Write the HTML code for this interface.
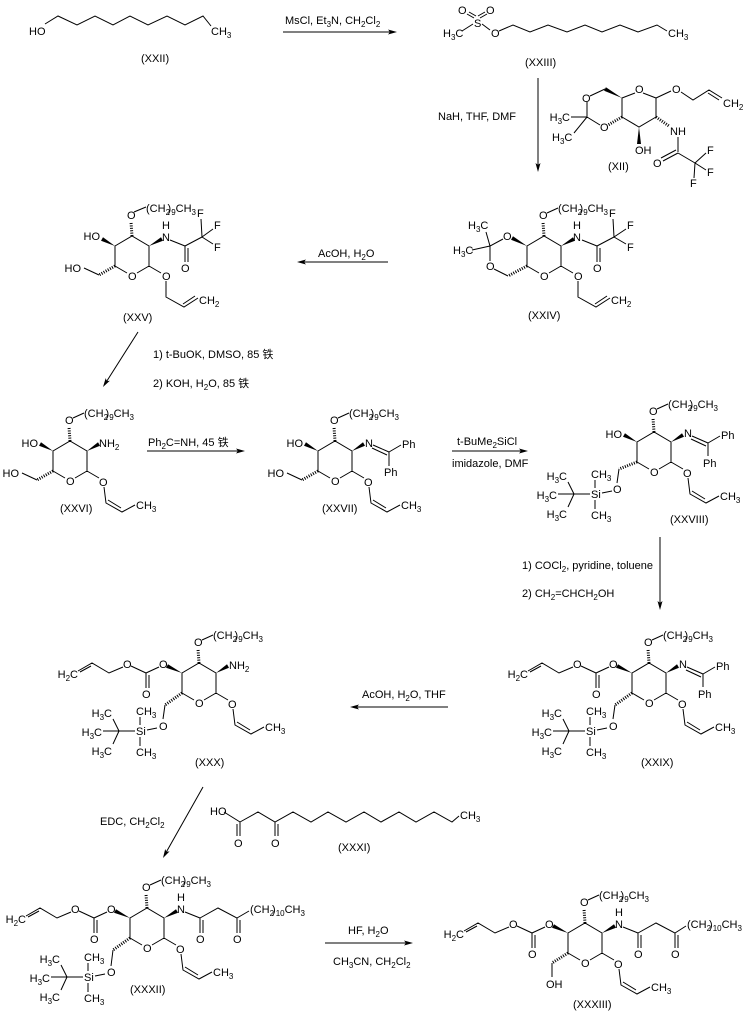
<!DOCTYPE html>
<html><head><meta charset="utf-8"><style>
html,body{margin:0;padding:0;background:#fff;}
svg{display:block;}
svg text{font-family:"Liberation Sans","Noto Sans CJK SC",sans-serif;font-size:11px;fill:#000;stroke:none;}
.s{font-size:8px;}
.b{fill:none;stroke:#000;stroke-width:1;}
.h{fill:none;stroke:#000;stroke-width:3;stroke-dasharray:1 1.4;}
.w{fill:#000;stroke:none;}
</style></head><body>
<svg width="749" height="1011" viewBox="0 0 749 1011" xmlns="http://www.w3.org/2000/svg">

<!-- ================= BONDS ================= -->
<path class="b" d="
M45,24 L58,16 L77,25 L95,16 L113,25 L130,16 L148,25 L167,16 L185,25 L203,16 L211,26
M462,31 L473,24 M482,24 L490,30 M474,18 L467,14 M476,16 L469,12 M480,18 L487,14 M478,16 L485,12
M499,31 L513,25 L530,32 L548,25 L567,32 L585,25 L602,32 L620,25 L638,32 L657,25 L667,31

M643,93 L656,98 L656,117 L639,127 L622,117 L622,98 L635,93
M605,89 L590,96 M587,102 L587,117 L600,125 M571,117 L587,117 M587,117 L574,133
M678,137 L678,152 M678,153 L663,161 M676,150 L661,158 M678,153 L695,163
M695,163 L706,153 M695,163 L706,170 M695,163 L694,178
M656,98 L671,91 M681,92 L693,100 L709,90 L722,98 M708,93 L719,100

M137,273 L149,266 L149,246 L132,236 L115,246 L115,266 L127,273
M134,212 L146,207 M99,275 L84,268
M170,240 L185,246 L185,262 M188,248 L188,262
M185,246 L202,237 M202,237 L201,219 M202,237 L213,229 M202,237 L213,244
M149,266 L161,273 M166,281 L166,297 L184,307 L198,298 M183,304 L195,296

M549,273 L561,266 L561,246 L544,236 L527,246 L527,266 L539,273
M547,213 L558,208
M503,239 L490,246 L490,261 M494,269 L508,276 M490,246 L486,232 M472,250 L490,246
M582,240 L597,246 L597,262 M600,248 L600,262
M597,246 L614,237 M614,237 L613,219 M614,237 L626,229 M614,237 L626,244
M561,266 L573,273 M578,281 L578,297 L596,307 L610,298 M595,304 L607,296

M75,478 L87,471 L87,451 L70,441 L53,451 L53,471 L65,478
M73,418 L84,413 M37,480 L22,473 M87,471 L99,478
M104,487 L106,503 L122,512 L135,505 M108,500 L121,508

M340,478 L352,471 L352,451 L335,441 L318,451 L318,471 L330,478
M338,418 L349,413 M302,480 L287,473
M373,445 L389,452 M372,448 L387,455 M389,452 L401,445 M389,452 L389,466
M352,471 L364,478 M369,487 L371,503 L387,512 L400,505 M373,500 L386,508

M659,469 L671,462 L671,442 L654,432 L637,442 L637,462 L649,469
M657,409 L668,404
M692,436 L708,443 M691,439 L706,446 M708,443 L720,436 M708,443 L708,456
M619,469 L617,483 M602,493 L612,491 M595,488 L595,480 M595,500 L595,509
M558,494 L590,494 M574,494 L568,482 M574,494 L568,507
M671,462 L683,469 M688,478 L690,494 L706,503 L719,496 M692,491 L705,499

M654,700 L666,693 L666,673 L649,663 L632,673 L632,693 L644,700
M652,640 L663,635
M609,667 L596,673 L596,688 M599,675 L599,688 M596,673 L581,666 M573,667 L559,673 L542,663 L528,671 M541,666 L530,672
M687,667 L703,674 M686,670 L701,677 M703,674 L715,667 M703,674 L703,687
M615,705 L613,719 M597,730 L607,728 M590,725 L590,717 M590,737 L590,746 M553,731 L585,731 M569,731 L563,719 M569,731 L563,744
M666,693 L678,700 M683,709 L685,725 L701,734 L714,727 M687,722 L700,730

M204,700 L216,693 L216,673 L199,663 L182,673 L182,693 L194,700
M202,640 L213,635
M159,667 L146,673 L146,688 M149,675 L149,688 M146,673 L131,666 M123,667 L109,673 L92,663 L78,671 M91,666 L80,672
M165,705 L163,719 M147,730 L157,728 M140,725 L140,717 M140,737 L140,746 M103,731 L135,731 M119,731 L113,719 M119,731 L113,744
M216,693 L228,700 M233,709 L235,725 L251,734 L264,727 M237,722 L250,730

M224,812 L240,822 L240,836 M237,824 L237,836
M240,822 L258,812 L275,822 L293,812 L311,822 L328,812 L346,822 L364,812 L381,822 L399,812 L416,822 L434,812 L452,822 L459,816
M275,822 L275,836 M278,824 L278,836

M152,945 L164,938 L164,918 L147,908 L130,918 L130,938 L142,945
M150,885 L161,880
M185,912 L200,918 L200,933 M203,920 L203,933 M200,918 L218,908 L237,918 L237,933 M240,920 L240,933 M237,918 L249,911
M107,912 L94,918 L94,933 M97,920 L97,933 M94,918 L79,911 M71,912 L57,918 L40,908 L26,916 M39,911 L28,917
M113,950 L111,966 M95,976 L105,974 M88,971 L88,963 M88,983 L88,992 M51,977 L83,977 M67,977 L61,965 M67,977 L61,990
M164,938 L176,945 M181,954 L183,970 L199,979 L212,972 M185,967 L198,975

M590,960 L602,953 L602,933 L585,923 L568,933 L568,953 L580,960
M588,900 L599,895
M623,927 L638,933 L638,948 M641,935 L641,948 M638,933 L656,923 L675,933 L675,948 M678,935 L678,948 M675,933 L686,926
M545,927 L532,933 L532,948 M535,935 L535,948 M532,933 L517,926 M509,927 L495,933 L478,923 L464,931 M477,926 L466,932
M552,963 L552,977
M602,953 L614,960 M619,969 L621,985 L637,994 L650,987 M623,982 L636,990

M283,32 L391,32
M538,78 L538,166
M303,262 L388,262
M138,332 L106.8,381.1
M147,451 L239,451
M452,451 L522,451
M660,537 L660,604
M356,707 L448,707
M203,787 L166.4,851.9
M325,943 L407,943
"/>

<!-- hashed bonds -->
<path class="h" d="
M622,117 L608,125 M656,117 L669,126
M132,236 L131,222 M115,266 L99,275
M544,236 L543,222 M527,266 L508,276
M70,441 L69,427 M53,471 L37,480
M335,441 L334,427 M318,471 L302,480
M654,432 L653,418 M637,462 L619,469
M649,663 L648,649 M632,693 L615,705
M199,663 L198,649 M182,693 L165,705
M147,908 L146,894 M130,938 L113,950
M585,923 L584,909 M568,953 L552,963
"/>

<!-- bold wedges + arrowheads -->
<g class="w">
<polygon points="622,98 605.9,87.2 604.1,90.8"/>
<polygon points="639,127 637,144 641,144"/>
<polygon points="115,246 103,237.2 101,240.8"/>
<polygon points="149,246 163,240.8 161,237.2"/>
<polygon points="527,246 513,236.2 511,239.8"/>
<polygon points="561,246 575,240.8 573,237.2"/>
<polygon points="53,451 41,442.2 39,445.8"/>
<polygon points="87,451 100,445.8 98,442.2"/>
<polygon points="318,451 306,442.2 304,445.8"/>
<polygon points="352,451 365,445.8 363,442.2"/>
<polygon points="637,442 625,433.2 623,436.8"/>
<polygon points="671,442 684,436.8 682,433.2"/>
<polygon points="632,673 618,664.2 616,667.8"/>
<polygon points="666,673 679,667.8 677,664.2"/>
<polygon points="182,673 168,664.2 166,667.8"/>
<polygon points="216,673 229,667.8 227,664.2"/>
<polygon points="130,918 116,909.2 114,912.8"/>
<polygon points="164,918 178,912.8 176,909.2"/>
<polygon points="568,933 554,924.2 552,927.8"/>
<polygon points="602,933 616,927.8 614,924.2"/>
<polygon points="397,32 388,29.5 390,32 388,34.5"/>
<polygon points="538,172 535.5,163 538,165 540.5,163"/>
<polygon points="297,262 306,259.5 304,262 306,264.5"/>
<polygon points="103,387 109.9,380.7 106.8,381.1 105.7,378.1"/>
<polygon points="245,451 236,448.5 238,451 236,453.5"/>
<polygon points="528,451 519,448.5 521,451 519,453.5"/>
<polygon points="660,610 657.5,601 660,603 662.5,601"/>
<polygon points="350,707 359,704.5 357,707 359,709.5"/>
<polygon points="163,858 169.6,851.4 166.4,851.9 165.2,849"/>
<polygon points="413,943 404,940.5 406,943 404,945.5"/>
</g>

<!-- ================= TEXT ================= -->
<!-- XXII -->
<text x="29" y="35">HO</text>
<text x="211" y="35">CH<tspan class="s" dy="3">3</tspan></text>
<text x="141" y="62">(XXII)</text>
<text x="285" y="24">MsCl, Et<tspan class="s" dy="3">3</tspan><tspan dy="-3">N, CH</tspan><tspan class="s" dy="3">2</tspan><tspan dy="-3">Cl</tspan><tspan class="s" dy="3">2</tspan></text>

<!-- XXIII -->
<text x="458" y="14">O</text>
<text x="486" y="14">O</text>
<text x="474" y="27">S</text>
<text x="443" y="37">H<tspan class="s" dy="3">3</tspan><tspan dy="-3">C</tspan></text>
<text x="491" y="37">O</text>
<text x="668" y="37">CH<tspan class="s" dy="3">3</tspan></text>
<text x="525" y="66">(XXIII)</text>
<text x="438" y="120">NaH, THF, DMF</text>

<!-- XII -->
<text x="635" y="93">O</text>
<text x="582" y="102">O</text>
<text x="600" y="131">O</text>
<text x="570" y="121" text-anchor="end">H<tspan class="s" dy="3">3</tspan><tspan dy="-3">C</tspan></text>
<text x="552" y="141">H<tspan class="s" dy="3">3</tspan><tspan dy="-3">C</tspan></text>
<text x="635" y="154">OH</text>
<text x="670" y="135">NH</text>
<text x="653" y="167">O</text>
<text x="707" y="154">F</text>
<text x="707" y="176">F</text>
<text x="690" y="187">F</text>
<text x="672" y="93">O</text>
<text x="723" y="107">CH<tspan class="s" dy="3">2</tspan></text>
<text x="608" y="170">(XII)</text>

<!-- XXV -->
<text x="128" y="280">O</text>
<text x="127" y="219">O</text>
<text x="146" y="212">(CH<tspan class="s" dy="3">2</tspan><tspan dy="-3" dx="-2.5">)</tspan><tspan class="s" dy="3">9</tspan><tspan dy="-3">CH</tspan><tspan class="s" dy="3">3</tspan></text>
<text x="100" y="240" text-anchor="end">HO</text>
<text x="81" y="272" text-anchor="end">HO</text>
<text x="162" y="241">N</text>
<text x="162" y="229">H</text>
<text x="181" y="272">O</text>
<text x="197" y="217">F</text>
<text x="214" y="229">F</text>
<text x="214" y="251">F</text>
<text x="162" y="280">O</text>
<text x="199" y="304">CH<tspan class="s" dy="3">2</tspan></text>
<text x="123" y="321">(XXV)</text>
<text x="318" y="257">AcOH, H<tspan class="s" dy="3">2</tspan><tspan dy="-3">O</tspan></text>

<!-- XXIV -->
<text x="540" y="280">O</text>
<text x="539" y="219">O</text>
<text x="558" y="212">(CH<tspan class="s" dy="3">2</tspan><tspan dy="-3" dx="-2.5">)</tspan><tspan class="s" dy="3">9</tspan><tspan dy="-3">CH</tspan><tspan class="s" dy="3">3</tspan></text>
<text x="503" y="240">O</text>
<text x="486" y="270">O</text>
<text x="468" y="229">H<tspan class="s" dy="3">3</tspan><tspan dy="-3">C</tspan></text>
<text x="453" y="254">H<tspan class="s" dy="3">3</tspan><tspan dy="-3">C</tspan></text>
<text x="573" y="241">N</text>
<text x="573" y="229">H</text>
<text x="593" y="272">O</text>
<text x="609" y="217">F</text>
<text x="627" y="229">F</text>
<text x="627" y="251">F</text>
<text x="574" y="280">O</text>
<text x="611" y="304">CH<tspan class="s" dy="3">2</tspan></text>
<text x="528" y="319">(XXIV)</text>

<!-- conditions -->
<text x="153" y="358">1) t-BuOK, DMSO, 85 铁</text>
<text x="153" y="387">2) KOH, H<tspan class="s" dy="3">2</tspan><tspan dy="-3">O, 85 铁</tspan></text>

<!-- XXVI -->
<text x="66" y="485">O</text>
<text x="65" y="424">O</text>
<text x="84" y="417">(CH<tspan class="s" dy="3">2</tspan><tspan dy="-3" dx="-2.5">)</tspan><tspan class="s" dy="3">9</tspan><tspan dy="-3">CH</tspan><tspan class="s" dy="3">3</tspan></text>
<text x="38" y="447" text-anchor="end">HO</text>
<text x="19" y="477" text-anchor="end">HO</text>
<text x="99" y="447">NH<tspan class="s" dy="3">2</tspan></text>
<text x="99" y="486">O</text>
<text x="136" y="509">CH<tspan class="s" dy="3">3</tspan></text>
<text x="60" y="512">(XXVI)</text>
<text x="148" y="446">Ph<tspan class="s" dy="3">2</tspan><tspan dy="-3">C=NH, 45 铁</tspan></text>

<!-- XXVII -->
<text x="331" y="485">O</text>
<text x="330" y="424">O</text>
<text x="349" y="417">(CH<tspan class="s" dy="3">2</tspan><tspan dy="-3" dx="-2.5">)</tspan><tspan class="s" dy="3">9</tspan><tspan dy="-3">CH</tspan><tspan class="s" dy="3">3</tspan></text>
<text x="303" y="447" text-anchor="end">HO</text>
<text x="284" y="477" text-anchor="end">HO</text>
<text x="365" y="447">N</text>
<text x="402" y="448">Ph</text>
<text x="384" y="476">Ph</text>
<text x="364" y="486">O</text>
<text x="401" y="509">CH<tspan class="s" dy="3">3</tspan></text>
<text x="322" y="512">(XXVII)</text>
<text x="457" y="445">t-BuMe<tspan class="s" dy="3">2</tspan><tspan dy="-3">SiCl</tspan></text>
<text x="452" y="467">imidazole, DMF</text>

<!-- XXVIII -->
<text x="650" y="476">O</text>
<text x="649" y="415">O</text>
<text x="668" y="408">(CH<tspan class="s" dy="3">2</tspan><tspan dy="-3" dx="-2.5">)</tspan><tspan class="s" dy="3">9</tspan><tspan dy="-3">CH</tspan><tspan class="s" dy="3">3</tspan></text>
<text x="622" y="438" text-anchor="end">HO</text>
<text x="684" y="437">N</text>
<text x="721" y="439">Ph</text>
<text x="703" y="467">Ph</text>
<text x="613" y="493">O</text>
<text x="591" y="498">Si</text>
<text x="591" y="478">CH<tspan class="s" dy="3">3</tspan></text>
<text x="591" y="519">CH<tspan class="s" dy="3">3</tspan></text>
<text x="567" y="480" text-anchor="end">H<tspan class="s" dy="3">3</tspan><tspan dy="-3">C</tspan></text>
<text x="557" y="499" text-anchor="end">H<tspan class="s" dy="3">3</tspan><tspan dy="-3">C</tspan></text>
<text x="567" y="518" text-anchor="end">H<tspan class="s" dy="3">3</tspan><tspan dy="-3">C</tspan></text>
<text x="683" y="477">O</text>
<text x="720" y="500">CH<tspan class="s" dy="3">3</tspan></text>
<text x="670" y="523">(XXVIII)</text>
<text x="522" y="569">1) COCl<tspan class="s" dy="3">2</tspan><tspan dy="-3">, pyridine, toluene</tspan></text>
<text x="522" y="597">2) CH<tspan class="s" dy="3">2</tspan><tspan dy="-3">=CHCH</tspan><tspan class="s" dy="3">2</tspan><tspan dy="-3">OH</tspan></text>

<!-- XXIX -->
<text x="645" y="707">O</text>
<text x="644" y="646">O</text>
<text x="663" y="639">(CH<tspan class="s" dy="3">2</tspan><tspan dy="-3" dx="-2.5">)</tspan><tspan class="s" dy="3">9</tspan><tspan dy="-3">CH</tspan><tspan class="s" dy="3">3</tspan></text>
<text x="609" y="668">O</text>
<text x="592" y="698">O</text>
<text x="573" y="668">O</text>
<text x="528" y="678" text-anchor="end">H<tspan class="s" dy="3">2</tspan><tspan dy="-3">C</tspan></text>
<text x="679" y="668">N</text>
<text x="716" y="670">Ph</text>
<text x="698" y="698">Ph</text>
<text x="609" y="730">O</text>
<text x="586" y="735">Si</text>
<text x="586" y="715">CH<tspan class="s" dy="3">3</tspan></text>
<text x="586" y="756">CH<tspan class="s" dy="3">3</tspan></text>
<text x="562" y="717" text-anchor="end">H<tspan class="s" dy="3">3</tspan><tspan dy="-3">C</tspan></text>
<text x="552" y="736" text-anchor="end">H<tspan class="s" dy="3">3</tspan><tspan dy="-3">C</tspan></text>
<text x="562" y="755" text-anchor="end">H<tspan class="s" dy="3">3</tspan><tspan dy="-3">C</tspan></text>
<text x="678" y="708">O</text>
<text x="715" y="731">CH<tspan class="s" dy="3">3</tspan></text>
<text x="641" y="766">(XXIX)</text>
<text x="362" y="698">AcOH, H<tspan class="s" dy="3">2</tspan><tspan dy="-3">O, THF</tspan></text>

<!-- XXX -->
<text x="195" y="707">O</text>
<text x="194" y="646">O</text>
<text x="213" y="639">(CH<tspan class="s" dy="3">2</tspan><tspan dy="-3" dx="-2.5">)</tspan><tspan class="s" dy="3">9</tspan><tspan dy="-3">CH</tspan><tspan class="s" dy="3">3</tspan></text>
<text x="229" y="669">NH<tspan class="s" dy="3">2</tspan></text>
<text x="159" y="668">O</text>
<text x="142" y="698">O</text>
<text x="123" y="668">O</text>
<text x="78" y="678" text-anchor="end">H<tspan class="s" dy="3">2</tspan><tspan dy="-3">C</tspan></text>
<text x="159" y="730">O</text>
<text x="136" y="735">Si</text>
<text x="136" y="715">CH<tspan class="s" dy="3">3</tspan></text>
<text x="136" y="756">CH<tspan class="s" dy="3">3</tspan></text>
<text x="112" y="717" text-anchor="end">H<tspan class="s" dy="3">3</tspan><tspan dy="-3">C</tspan></text>
<text x="102" y="736" text-anchor="end">H<tspan class="s" dy="3">3</tspan><tspan dy="-3">C</tspan></text>
<text x="112" y="755" text-anchor="end">H<tspan class="s" dy="3">3</tspan><tspan dy="-3">C</tspan></text>
<text x="228" y="708">O</text>
<text x="265" y="731">CH<tspan class="s" dy="3">3</tspan></text>
<text x="195" y="766">(XXX)</text>

<!-- XXXI -->
<text x="100" y="825">EDC, CH<tspan class="s" dy="3">2</tspan><tspan dy="-3">Cl</tspan><tspan class="s" dy="3">2</tspan></text>
<text x="210" y="815">HO</text>
<text x="234" y="847">O</text>
<text x="271" y="847">O</text>
<text x="460" y="819">CH<tspan class="s" dy="3">3</tspan></text>
<text x="338" y="851">(XXXI)</text>

<!-- XXXII -->
<text x="143" y="952">O</text>
<text x="142" y="891">O</text>
<text x="161" y="884">(CH<tspan class="s" dy="3">2</tspan><tspan dy="-3" dx="-2.5">)</tspan><tspan class="s" dy="3">9</tspan><tspan dy="-3">CH</tspan><tspan class="s" dy="3">3</tspan></text>
<text x="177" y="913">N</text>
<text x="177" y="901">H</text>
<text x="196" y="943">O</text>
<text x="233" y="943">O</text>
<text x="250" y="913">(CH<tspan class="s" dy="3">2</tspan><tspan dy="-3" dx="-2">)</tspan><tspan class="s" dy="3">10</tspan><tspan dy="-3">CH</tspan><tspan class="s" dy="3">3</tspan></text>
<text x="107" y="913">O</text>
<text x="90" y="943">O</text>
<text x="71" y="913">O</text>
<text x="26" y="923" text-anchor="end">H<tspan class="s" dy="3">2</tspan><tspan dy="-3">C</tspan></text>
<text x="107" y="976">O</text>
<text x="84" y="981">Si</text>
<text x="84" y="961">CH<tspan class="s" dy="3">3</tspan></text>
<text x="84" y="1002">CH<tspan class="s" dy="3">3</tspan></text>
<text x="60" y="963" text-anchor="end">H<tspan class="s" dy="3">3</tspan><tspan dy="-3">C</tspan></text>
<text x="50" y="982" text-anchor="end">H<tspan class="s" dy="3">3</tspan><tspan dy="-3">C</tspan></text>
<text x="60" y="1001" text-anchor="end">H<tspan class="s" dy="3">3</tspan><tspan dy="-3">C</tspan></text>
<text x="176" y="953">O</text>
<text x="213" y="976">CH<tspan class="s" dy="3">3</tspan></text>
<text x="130" y="993">(XXXII)</text>
<text x="348" y="934">HF, H<tspan class="s" dy="3">2</tspan><tspan dy="-3">O</tspan></text>
<text x="333" y="965">CH<tspan class="s" dy="3">3</tspan><tspan dy="-3">CN, CH</tspan><tspan class="s" dy="3">2</tspan><tspan dy="-3">Cl</tspan><tspan class="s" dy="3">2</tspan></text>

<!-- XXXIII -->
<text x="581" y="967">O</text>
<text x="580" y="906">O</text>
<text x="599" y="899">(CH<tspan class="s" dy="3">2</tspan><tspan dy="-3" dx="-2.5">)</tspan><tspan class="s" dy="3">9</tspan><tspan dy="-3">CH</tspan><tspan class="s" dy="3">3</tspan></text>
<text x="615" y="928">N</text>
<text x="615" y="916">H</text>
<text x="634" y="958">O</text>
<text x="671" y="958">O</text>
<text x="687" y="928">(CH<tspan class="s" dy="3">2</tspan><tspan dy="-3" dx="-2">)</tspan><tspan class="s" dy="3">10</tspan><tspan dy="-3">CH</tspan><tspan class="s" dy="3">3</tspan></text>
<text x="545" y="928">O</text>
<text x="528" y="958">O</text>
<text x="509" y="928">O</text>
<text x="464" y="938" text-anchor="end">H<tspan class="s" dy="3">2</tspan><tspan dy="-3">C</tspan></text>
<text x="546" y="988">OH</text>
<text x="614" y="968">O</text>
<text x="651" y="991">CH<tspan class="s" dy="3">3</tspan></text>
<text x="573" y="1008">(XXXIII)</text>

</svg>
</body></html>
